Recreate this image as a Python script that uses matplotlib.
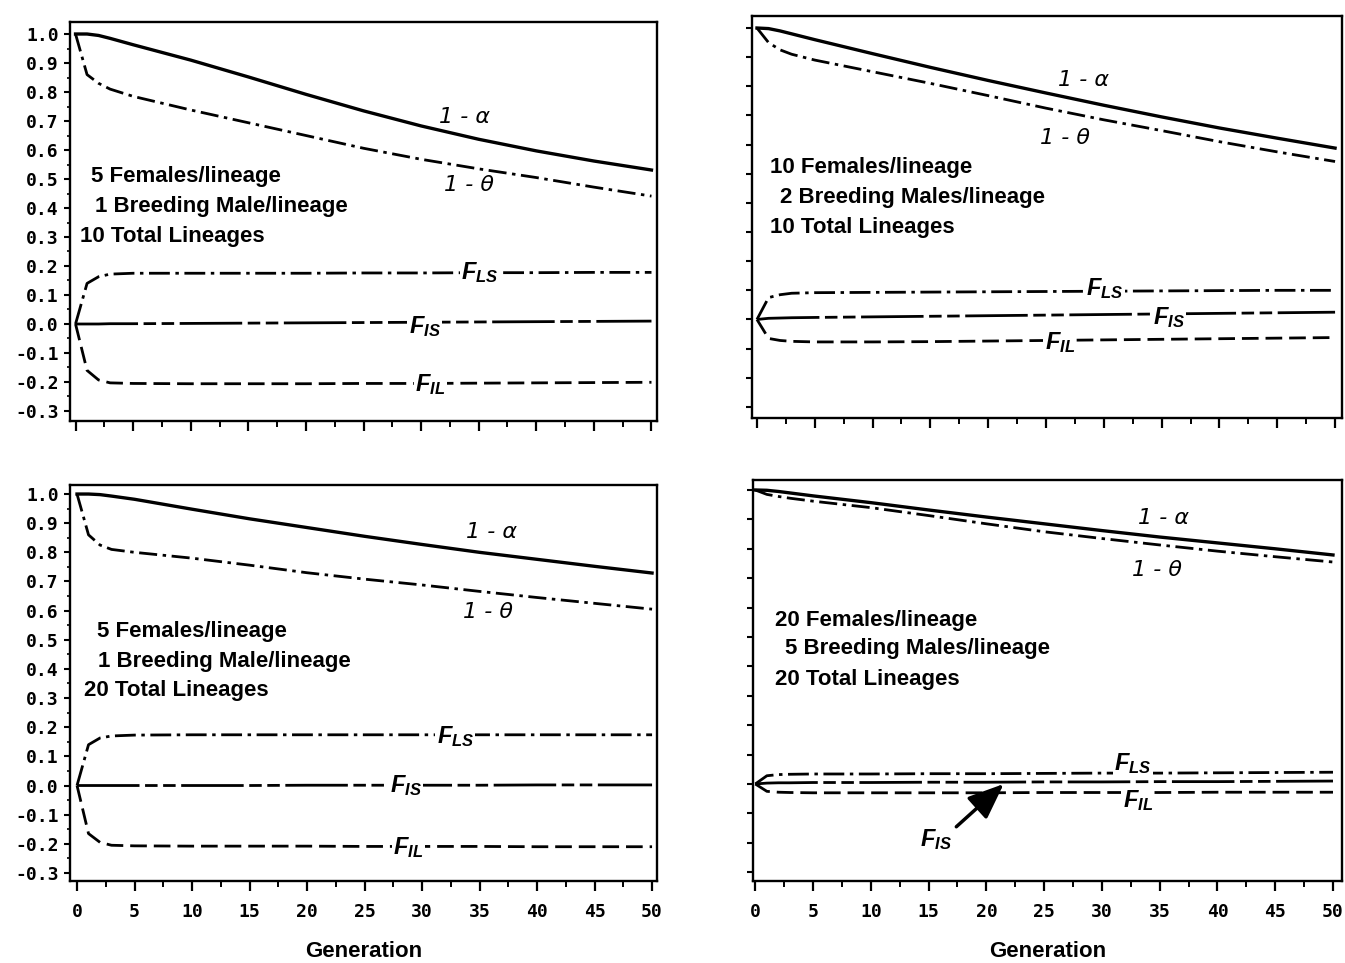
import matplotlib
matplotlib.use('Agg')
import matplotlib.pyplot as plt
from matplotlib import font_manager
from matplotlib.ticker import MultipleLocator, FormatStrFormatter

names = {f.name for f in font_manager.fontManager.ttflist}
SANS = 'Liberation Sans Narrow' if 'Liberation Sans Narrow' in names else 'Liberation Sans'
MONO = 'DejaVu Sans Mono'

plt.rcParams['mathtext.fontset'] = 'custom'
plt.rcParams['mathtext.it'] = 'Liberation Sans:italic:bold'
plt.rcParams['mathtext.rm'] = 'Liberation Sans:bold'
plt.rcParams['mathtext.bf'] = 'Liberation Sans:bold'
plt.rcParams['lines.scale_dashes'] = False

# ---------------- data ----------------
gen = [0, 1, 2, 3, 5, 10, 15, 20, 25, 30, 35, 40, 45, 50]

# Panel A: 5 females, 1 male, 10 lineages
a_alpha = [1.0, 1.0, 0.995, 0.985, 0.963, 0.910, 0.852, 0.792, 0.735, 0.683, 0.637, 0.597, 0.562, 0.531]
a_theta = [1.0, 0.86, 0.83, 0.81, 0.785, 0.738, 0.694, 0.650, 0.606, 0.568, 0.535, 0.505, 0.472, 0.441]
a_fls = [0.0, 0.14, 0.163, 0.172, 0.175, 0.175, 0.175, 0.175, 0.176, 0.176, 0.177, 0.177, 0.178, 0.178]
a_fis = [0.0, 0.0, 0.0, 0.001, 0.001, 0.002, 0.003, 0.004, 0.005, 0.006, 0.007, 0.008, 0.009, 0.010]
a_fil = [0.0, -0.16, -0.193, -0.203, -0.205, -0.206, -0.206, -0.206, -0.205, -0.205, -0.204, -0.203, -0.202, -0.201]

# Panel B: 10 females, 2 males, 10 lineages
b_alpha = [1.0, 0.998, 0.99, 0.98, 0.96, 0.912, 0.865, 0.82, 0.777, 0.735, 0.695, 0.657, 0.622, 0.588]
b_theta = [1.0, 0.95, 0.925, 0.91, 0.89, 0.85, 0.81, 0.768, 0.725, 0.685, 0.648, 0.61, 0.575, 0.542]
b_fls = [0.0, 0.075, 0.085, 0.09, 0.092, 0.093, 0.094, 0.095, 0.096, 0.097, 0.098, 0.099, 0.100, 0.100]
b_fis = [0.0, 0.004, 0.005, 0.006, 0.007, 0.009, 0.011, 0.013, 0.015, 0.017, 0.019, 0.021, 0.023, 0.025]
b_fil = [0.0, -0.065, -0.072, -0.075, -0.077, -0.077, -0.076, -0.074, -0.072, -0.070, -0.068, -0.066, -0.064, -0.062]

# Panel C: 5 females, 1 male, 20 lineages
c_alpha = [1.0, 1.0, 0.998, 0.993, 0.982, 0.948, 0.915, 0.885, 0.855, 0.827, 0.800, 0.776, 0.752, 0.729]
c_theta = [1.0, 0.86, 0.825, 0.81, 0.80, 0.78, 0.756, 0.73, 0.708, 0.688, 0.666, 0.645, 0.625, 0.605]
c_fls = [0.0, 0.14, 0.163, 0.17, 0.173, 0.174, 0.174, 0.174, 0.174, 0.174, 0.174, 0.174, 0.174, 0.174]
c_fis = [0.0, 0.0, 0.0, 0.0, 0.0, 0.0, 0.0, 0.001, 0.001, 0.001, 0.001, 0.002, 0.002, 0.002]
c_fil = [0.0, -0.165, -0.195, -0.205, -0.207, -0.208, -0.208, -0.208, -0.209, -0.209, -0.209, -0.21, -0.21, -0.21]

# Panel D: 20 females, 5 males, 20 lineages
d_alpha = [1.0, 0.999, 0.995, 0.99, 0.98, 0.957, 0.932, 0.908, 0.885, 0.862, 0.840, 0.820, 0.800, 0.779]
d_theta = [1.0, 0.985, 0.978, 0.972, 0.962, 0.94, 0.913, 0.885, 0.858, 0.835, 0.813, 0.792, 0.773, 0.755]
d_fls = [0.0, 0.028, 0.032, 0.033, 0.034, 0.034, 0.035, 0.035, 0.036, 0.037, 0.037, 0.038, 0.039, 0.040]
d_fis = [0.0, 0.003, 0.004, 0.004, 0.005, 0.005, 0.006, 0.006, 0.007, 0.007, 0.008, 0.008, 0.009, 0.010]
d_fil = [0.0, -0.025, -0.028, -0.029, -0.030, -0.030, -0.030, -0.030, -0.029, -0.029, -0.029, -0.028, -0.028, -0.028]

a_text = ['5 Females/lineage', '1 Breeding Male/lineage', '10 Total Lineages']
b_text = ['10 Females/lineage', '2 Breeding Males/lineage', '10 Total Lineages']
c_text = ['5 Females/lineage', '1 Breeding Male/lineage', '20 Total Lineages']
d_text = ['20 Females/lineage', '5 Breeding Males/lineage', '20 Total Lineages']

x_ticks = [0, 5, 10, 15, 20, 25, 30, 35, 40, 45, 50]
y_ticks = [1.0, 0.9, 0.8, 0.7, 0.6, 0.5, 0.4, 0.3, 0.2, 0.1, 0.0, -0.1, -0.2, -0.3]

# ---------------- figure ----------------
W, H = 1345, 963
fig = plt.figure(figsize=(W / 100, H / 100), dpi=100)


def px_axes(l, t, r, b):
    return fig.add_axes([l / W, 1 - b / H, (r - l) / W, (b - t) / H])


S_ALPHA = dict(color='black', lw=2.4, ls='-')
S_THETA = dict(color='black', lw=2.0, ls=(0, (13, 4, 2.5, 4)))
S_FLS = dict(color='black', lw=2.0, ls=(0, (15, 4, 2.5, 4)))
S_FIS = dict(color='black', lw=2.0, ls=(0, (45, 4, 9, 4, 9, 4)))
S_FIL = dict(color='black', lw=2.0, ls=(0, (12, 5)))

BOX = dict(facecolor='white', edgecolor='none', pad=1.0)
TXT = 16


def panel(rect, xlim, ylim, data, texts, text_pos, lab_pos, ylabels, xlabels):
    ax = px_axes(*rect)
    alpha, theta, fls, fis, fil = data
    ax.plot(gen, alpha, **S_ALPHA)
    ax.plot(gen, theta, **S_THETA)
    ax.plot(gen, fls, **S_FLS)
    ax.plot(gen, fis, **S_FIS)
    ax.plot(gen, fil, **S_FIL)
    ax.set_xlim(*xlim)
    ax.set_ylim(*ylim)
    for s in ax.spines.values():
        s.set_linewidth(1.7)
    ax.set_xticks(x_ticks)
    ax.xaxis.set_minor_locator(MultipleLocator(2.5))
    ax.set_yticks(y_ticks)
    ax.tick_params(axis='x', which='major', direction='out', length=7, width=1.6, pad=9)
    ax.tick_params(axis='x', which='minor', direction='out', length=4, width=1.4)
    ax.tick_params(axis='y', which='major', direction='out', length=4, width=1.5, pad=4)
    if ylabels:
        ax.yaxis.set_minor_locator(MultipleLocator(0.05))
        ax.tick_params(axis='y', which='minor', direction='out', length=2, width=1.2)
        ax.yaxis.set_major_formatter(FormatStrFormatter('%.1f'))
        for t in ax.get_yticklabels():
            t.set_fontfamily(MONO)
            t.set_fontweight('bold')
            t.set_fontsize(13)
    else:
        ax.set_yticklabels([])
    if xlabels:
        for t in ax.get_xticklabels():
            t.set_fontfamily(MONO)
            t.set_fontweight('bold')
            t.set_fontsize(13)
        ax.set_xlabel('Generation', fontfamily=SANS, fontweight='bold', fontsize=16, labelpad=14)
    else:
        ax.set_xticklabels([])
    for txt, (x, y) in zip(texts, text_pos):
        ax.text(x, y, txt, fontfamily=SANS, fontweight='bold', fontsize=TXT, ha='left', va='center')
    # curve labels
    (xa, ya), (xt, yt), (xls, yls), (xis, yis), (xil, yil) = lab_pos
    ax.text(xa, ya, '1 - α', fontfamily='DejaVu Sans', style='italic', fontsize=16, ha='center', va='center')
    ax.text(xt, yt, '1 - θ', fontfamily='DejaVu Sans', style='italic', fontsize=16, ha='center', va='center')
    ax.text(xls, yls, r'$F_{LS}$', fontsize=17, ha='center', va='center', bbox=BOX)
    if xis is not None:
        ax.text(xis, yis, r'$F_{IS}$', fontsize=17, ha='center', va='center', bbox=BOX)
    ax.text(xil, yil, r'$F_{IL}$', fontsize=17, ha='center', va='center', bbox=BOX)
    return ax


# Panel A (top-left)
panel((70, 22, 657, 421), (-0.48, 50.48), (-0.3345, 1.0414),
      (a_alpha, a_theta, a_fls, a_fis, a_fil), a_text,
      [(1.3, 0.51), (1.7, 0.405), (0.4, 0.302)],
      [(33.8, 0.714), (34.2, 0.479), (35.1, 0.176), (30.3, -0.01), (30.8, -0.21)],
      True, False)

# Panel B (top-right)
panel((752, 16, 1342, 418), (-0.43, 50.6), (-0.338, 1.0412),
      (b_alpha, b_theta, b_fls, b_fis, b_fil), b_text,
      [(1.1, 0.52), (2.0, 0.417), (1.1, 0.314)],
      [(28.2, 0.82), (26.6, 0.623), (30.1, 0.105), (35.6, 0.005), (26.2, -0.078)],
      False, False)

# Panel C (bottom-left)
panel((70, 485, 657, 881), (-0.61, 50.43), (-0.3276, 1.031),
      (c_alpha, c_theta, c_fls, c_fis, c_fil), c_text,
      [(1.7, 0.53), (1.85, 0.427), (0.6, 0.325)],
      [(36.0, 0.87), (35.7, 0.595), (32.9, 0.168), (28.6, 0.0), (28.8, -0.213)],
      True, True)

# Panel D (bottom-right)
axd = panel((753, 480, 1342, 881), (-0.2, 50.78), (-0.330, 1.034),
            (d_alpha, d_theta, d_fls, d_fis, d_fil), d_text,
            [(1.7, 0.555), (2.6, 0.46), (1.7, 0.357)],
            [(35.3, 0.905), (34.8, 0.728), (32.7, 0.068), (None, None), (33.1, -0.055)],
            False, True)
axd.annotate(r'$F_{IS}$', xy=(21.5, 0.0), xytext=(15.6, -0.19), fontsize=17,
             ha='center', va='center',
             arrowprops=dict(arrowstyle='-|>,head_length=1.1,head_width=0.45', color='black',
                             lw=2.5, mutation_scale=20, shrinkA=2, shrinkB=0,
                             relpos=(1.0, 0.85)))

fig.savefig('out.png', dpi=100)
